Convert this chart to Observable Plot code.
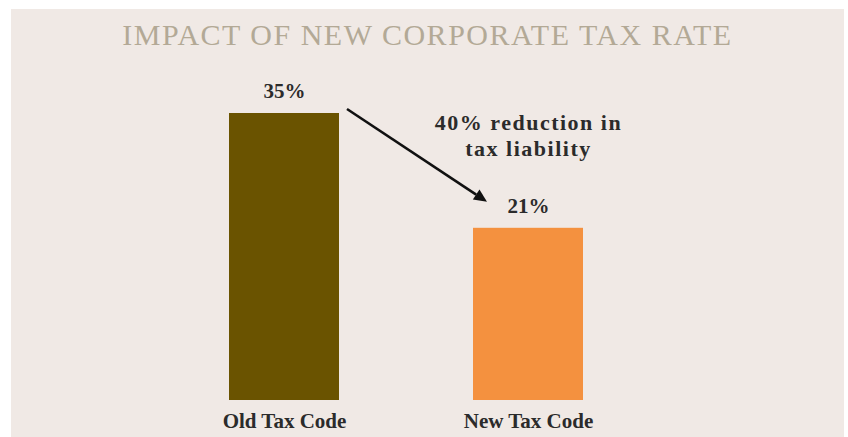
<!DOCTYPE html>
<html>
<head>
<meta charset="utf-8">
<script src="https://cdn.jsdelivr.net/npm/d3@7"></script>
<script src="https://cdn.jsdelivr.net/npm/@observablehq/plot@0.6"></script>
<style>
  body { margin: 0; background: #ffffff; width: 848px; height: 437px; overflow: hidden; position: relative; }
  #panel { position: absolute; left: 11px; top: 9px; width: 833px; height: 428px; background: #f0e9e5; }
  #title { position: absolute; left: 11px; top: 17px; width: 833px; text-align: center;
           font-family: "Liberation Serif", serif; font-size: 30px; letter-spacing: 1.5px; color: #b3a996; line-height: 36px; }
  #chart { position: absolute; left: 0; top: 60px; }
  #chart svg { background: transparent; }
  .anno text { letter-spacing: 1.5px; }
</style>
</head>
<body>
<div id="panel"></div>
<div id="title">IMPACT OF NEW CORPORATE TAX RATE</div>
<div id="chart"></div>
<script>
const categories = ["Old Tax Code", "New Tax Code"];
const rates = [35, 21];
const barColors = ["#6a5300", "#f4913f"];

const data = categories.map((c, i) => ({category: c, rate: rates[i], color: barColors[i]}));
const reduction = Math.round((rates[0] - rates[1]) / rates[0] * 100);
const annotation = [{category: categories[1], rate: rates[0], label: `${reduction}% reduction in\ntax liability`}];

const font = "Liberation Serif, serif";

const arrowMark = (index, scales) => {
  const x = scales.x, y = scales.y, bw = x.bandwidth();
  const x1 = x(categories[0]) + bw + 8, y1 = y(rates[0]) - 4;
  const x2 = x(categories[1]) + bw / 2 - 41, y2 = y(rates[1]) - 26;
  const g = d3.create("svg:g");
  const ang = Math.atan2(y2 - y1, x2 - x1);
  const head = 13, hw = 6;
  const bx = x2 - head * Math.cos(ang), by = y2 - head * Math.sin(ang);
  g.append("line").attr("x1", x1).attr("y1", y1).attr("x2", bx).attr("y2", by)
    .attr("stroke", "#111").attr("stroke-width", 2.6);
  g.append("path")
    .attr("d", `M${x2},${y2}L${bx + hw * Math.sin(ang)},${by - hw * Math.cos(ang)}L${bx - hw * Math.sin(ang)},${by + hw * Math.cos(ang)}Z`)
    .attr("fill", "#111");
  return g.node();
};

const chart = Plot.plot({
  width: 848,
  height: 377,
  marginLeft: 94,
  marginRight: 130,
  marginTop: 53,
  marginBottom: 37,
  style: {background: "transparent", fontFamily: font},
  x: {domain: categories, padding: 0.55, label: null},
  y: {domain: [0, 35], axis: null},
  marks: [
    Plot.barY(data, {x: "category", y: "rate", fill: "color"}),
    Plot.text(data, {x: "category", y: "rate", text: d => `${d.rate}%`, dy: -22,
      fontSize: 21, fontWeight: "bold", fill: "#2b2b2b", lineAnchor: "middle"}),
    Plot.text(annotation, {x: "category", y: "rate", text: "label", dy: 21, lineHeight: 1.2,
      fontSize: 22, fontWeight: "bold", fill: "#2b2b2b", lineAnchor: "middle", className: "anno"}),
    arrowMark,
    Plot.axisX({tickSize: 0, tickPadding: 13, fontSize: 21, fontWeight: "bold", fill: "#2b2b2b", label: null})
  ]
});
document.getElementById("chart").appendChild(chart);
</script>
</body>
</html>
